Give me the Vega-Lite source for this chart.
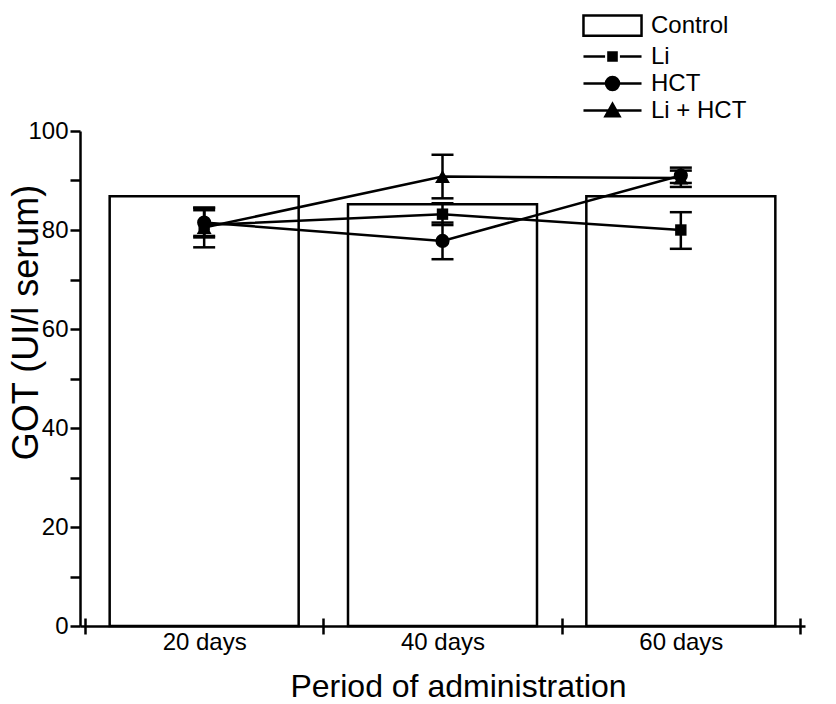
{
  "$schema": "https://vega.github.io/schema/vega-lite/v6.json",
  "width": 725,
  "height": 495,
  "autosize": {"type": "none"},
  "padding": {"left": 80, "top": 131, "right": 31, "bottom": 78},
  "background": "white",
  "config": {
    "view": {"stroke": null},
    "axis": {
      "grid": false,
      "domainColor": "black",
      "domainWidth": 2.5,
      "tickColor": "black",
      "tickWidth": 2.5,
      "labelColor": "black",
      "titleColor": "black",
      "labelFont": "Liberation Sans",
      "titleFont": "Liberation Sans",
      "labelFontSize": 24,
      "titleFontSize": 32,
      "titleFontWeight": "normal"
    }
  },
  "datasets": {
    "control": [
      {"day": 20, "group": "Control", "value": 86.8},
      {"day": 40, "group": "Control", "value": 85.2},
      {"day": 60, "group": "Control", "value": 86.8}
    ],
    "treat": [
      {"day": 20, "series": "Li", "mean": 81.0, "lo": 78.5, "hi": 84.0},
      {"day": 40, "series": "Li", "mean": 83.2, "lo": 81.0, "hi": 85.4},
      {"day": 60, "series": "Li", "mean": 80.0, "lo": 76.2, "hi": 83.6},
      {"day": 20, "series": "HCT", "mean": 81.5, "lo": 78.8, "hi": 84.5},
      {"day": 40, "series": "HCT", "mean": 77.8, "lo": 74.1, "hi": 81.5},
      {"day": 60, "series": "HCT", "mean": 91.0, "lo": 89.5, "hi": 92.6},
      {"day": 20, "series": "Li + HCT", "mean": 80.5, "lo": 76.5, "hi": 84.5},
      {"day": 40, "series": "Li + HCT", "mean": 90.8, "lo": 86.4, "hi": 95.2},
      {"day": 60, "series": "Li + HCT", "mean": 90.5, "lo": 88.7, "hi": 92.0}
    ]
  },
  "resolve": {"axis": {"x": "independent"}},
  "layer": [
    {
      "data": {"name": "control"},
      "mark": {"type": "bar", "fill": "white", "stroke": "black", "strokeWidth": 2.5, "size": 189},
      "encoding": {
        "x": {
          "field": "day", "type": "quantitative",
          "scale": {"domain": [10, 70], "nice": false, "zero": false},
          "axis": {
            "orient": "bottom", "values": [20, 40, 60], "ticks": false, "domain": false,
            "labelExpr": "datum.value + ' days'", "labelPadding": 4,
            "title": "Period of administration", "titleX": 378, "titleY": 70,
            "titleBaseline": "alphabetic", "titleAlign": "center"
          }
        },
        "y": {
          "field": "value", "type": "quantitative",
          "scale": {"domain": [0, 100], "nice": false},
          "axis": {
            "values": [0, 10, 20, 30, 40, 50, 60, 70, 80, 90, 100],
            "labelExpr": "datum.value % 20 == 0 ? datum.label : ''",
            "tickSize": 10, "labelPadding": 2, "labelBaseline": "middle",
            "title": "GOT (UI/l serum)", "titleFontSize": 36,
            "titleX": -43, "titleY": 191, "titleAngle": -90,
            "titleBaseline": "alphabetic", "titleAlign": "center"
          }
        }
      }
    },
    {
      "data": {"name": "treat"},
      "mark": {"type": "rule", "color": "black", "strokeWidth": 2.5},
      "encoding": {
        "x": {
          "field": "day", "type": "quantitative",
          "scale": {"domain": [10, 70], "nice": false, "zero": false},
          "axis": {
            "orient": "bottom", "values": [10, 30, 50, 70], "tickSize": 8,
            "labels": false, "domain": true, "title": null
          }
        },
        "y": {"field": "lo", "type": "quantitative", "scale": {"domain": [0, 100], "nice": false}},
        "y2": {"field": "hi"}
      }
    },
    {
      "data": {"name": "treat"},
      "mark": {"type": "tick", "orient": "horizontal", "color": "black", "opacity": 1, "thickness": 2.5, "size": 22},
      "encoding": {
        "x": {"field": "day", "type": "quantitative", "scale": {"domain": [10, 70], "nice": false, "zero": false}, "axis": null},
        "y": {"field": "lo", "type": "quantitative", "scale": {"domain": [0, 100], "nice": false}}
      }
    },
    {
      "data": {"name": "treat"},
      "mark": {"type": "tick", "orient": "horizontal", "color": "black", "opacity": 1, "thickness": 2.5, "size": 22},
      "encoding": {
        "x": {"field": "day", "type": "quantitative", "scale": {"domain": [10, 70], "nice": false, "zero": false}, "axis": null},
        "y": {"field": "hi", "type": "quantitative", "scale": {"domain": [0, 100], "nice": false}}
      }
    },
    {
      "data": {"name": "treat"},
      "mark": {"type": "line", "color": "black", "strokeWidth": 2.5},
      "encoding": {
        "x": {
          "field": "day", "type": "quantitative",
          "scale": {"domain": [10, 70], "nice": false, "zero": false},
          "axis": {
            "orient": "bottom", "values": [10, 30, 50, 70], "tickSize": -8,
            "labels": false, "domain": false, "title": null
          }
        },
        "y": {"field": "mean", "type": "quantitative", "scale": {"domain": [0, 100], "nice": false}},
        "detail": {"field": "series"}
      }
    },
    {
      "data": {"name": "treat"},
      "transform": [{"filter": "datum.series === 'Li'"}],
      "mark": {"type": "point", "shape": "square", "size": 130, "filled": true, "color": "black", "opacity": 1},
      "encoding": {
        "x": {"field": "day", "type": "quantitative", "scale": {"domain": [10, 70], "nice": false, "zero": false}, "axis": null},
        "y": {"field": "mean", "type": "quantitative", "scale": {"domain": [0, 100], "nice": false}}
      }
    },
    {
      "data": {"name": "treat"},
      "transform": [{"filter": "datum.series === 'HCT'"}],
      "mark": {"type": "point", "shape": "circle", "size": 200, "filled": true, "color": "black", "opacity": 1},
      "encoding": {
        "x": {"field": "day", "type": "quantitative", "scale": {"domain": [10, 70], "nice": false, "zero": false}, "axis": null},
        "y": {"field": "mean", "type": "quantitative", "scale": {"domain": [0, 100], "nice": false}}
      }
    },
    {
      "data": {"name": "treat"},
      "transform": [{"filter": "datum.series === 'Li + HCT'"}],
      "mark": {"type": "point", "shape": "triangle-up", "size": 220, "filled": true, "color": "black", "opacity": 1},
      "encoding": {
        "x": {"field": "day", "type": "quantitative", "scale": {"domain": [10, 70], "nice": false, "zero": false}, "axis": null},
        "y": {"field": "mean", "type": "quantitative", "scale": {"domain": [0, 100], "nice": false}}
      }
    },
    {
      "data": {"name": "treat"},
      "transform": [{"filter": "false"}],
      "mark": {"type": "point", "filled": true, "stroke": "black", "strokeWidth": 2.5, "opacity": 1},
      "encoding": {
        "x": {"field": "day", "type": "quantitative", "scale": {"domain": [10, 70], "nice": false, "zero": false}, "axis": null},
        "y": {"field": "mean", "type": "quantitative", "scale": {"domain": [0, 100], "nice": false}},
        "fill": {
          "field": "series", "type": "nominal",
          "scale": {
            "domain": ["Control", "Li", "HCT", "Li + HCT"],
            "range": ["white", "black", "black", "black"]
          },
          "legend": {
            "orient": "none", "legendX": 517.5, "legendY": -120.5,
            "title": null, "symbolSize": 729, "labelFontSize": 24,
            "labelFont": "Liberation Sans", "labelColor": "black",
            "labelOffset": 23.5, "rowPadding": 0,
            "symbolOpacity": 1, "symbolStrokeWidth": 2.5
          }
        },
        "shape": {
          "field": "series", "type": "nominal",
          "scale": {
            "domain": ["Control", "Li", "HCT", "Li + HCT"],
            "range": [
              "M-2.15,-0.75H2.15V0.75H-2.15Z",
              "M-2.15,0H-0.55M0.55,0H2.15M-0.3,-0.3H0.3V0.3H-0.3Z",
              "M-2.15,0H2.15M-0.48,0A0.48,0.48 0 1,0 0.48,0A0.48,0.48 0 1,0 -0.48,0Z",
              "M-2.15,0H2.15M0,-0.5L0.52,0.42H-0.52Z"
            ]
          },
          "legend": {
            "orient": "none", "legendX": 517.5, "legendY": -120.5,
            "title": null, "symbolSize": 729, "labelFontSize": 24,
            "labelFont": "Liberation Sans", "labelColor": "black",
            "labelOffset": 23.5, "rowPadding": 0,
            "symbolOpacity": 1, "symbolStrokeWidth": 2.5
          }
        }
      }
    }
  ]
}
